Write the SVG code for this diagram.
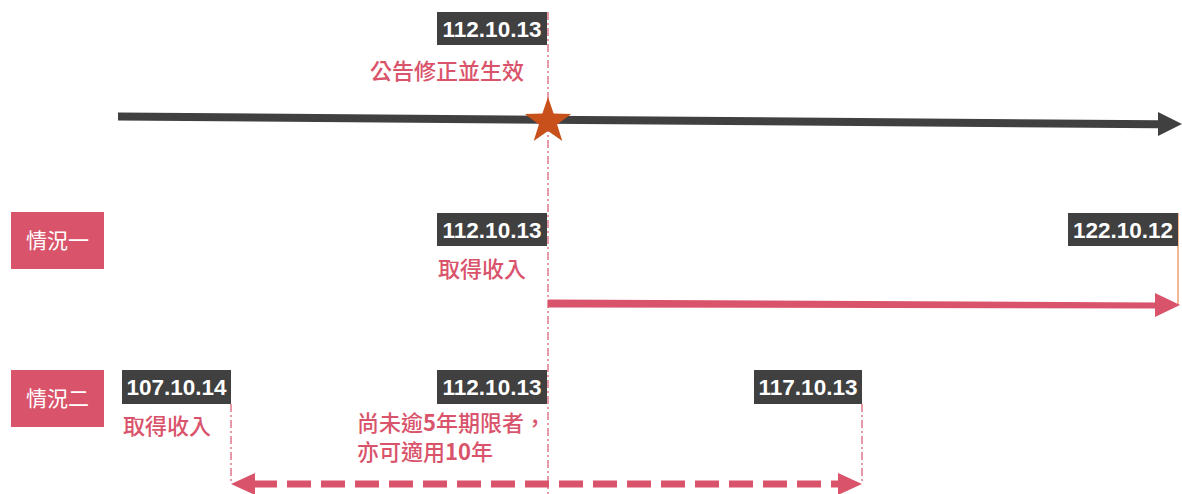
<svg xmlns="http://www.w3.org/2000/svg" width="1182" height="494" viewBox="0 0 1182 494" xml:lang="zh-Hant" lang="zh-Hant">
<style>
.date rect{fill:#404040}
.date text{fill:#fff;font-family:"Liberation Sans",Arial,sans-serif;font-weight:bold;font-size:22.5px;text-anchor:middle}
.case rect{fill:#D9536B}
.case text{fill:#fff;font-family:"Noto Sans CJK TC","Noto Sans CJK SC",sans-serif;font-size:21px;text-anchor:middle}
.lbl{fill:#D9536B;font-family:"Noto Sans CJK TC","Noto Sans CJK SC",sans-serif;font-size:22px;font-weight:500}
.num{font-weight:bold}
.guide{stroke:#D9536B;stroke-width:1.2;stroke-dasharray:8 3 2 3;fill:none}
</style>
<rect width="1182" height="494" fill="#fff"/>
<g id="connectors">
<line class="guide" x1="548" y1="12" x2="548" y2="494"/>
<line class="guide" x1="231" y1="404" x2="231" y2="484"/>
<line class="guide" x1="862" y1="404" x2="862" y2="484"/>
<line x1="1178" y1="213" x2="1178" y2="305" stroke="#F0A070" stroke-width="1.5"/>
<path d="M118 112.5 L1158 120.3 L1158 112 L1182 124 L1158 136 L1158 128.3 L118 120.5 Z" fill="#404040"/>
<path d="M548 299.5 L1155 302.5 L1155 293 L1180 305 L1155 317 L1155 308.5 L548 307.5 Z" fill="#D9536B"/>
<path d="M231 484 L255 473 L255 495 Z" fill="#D9536B"/>
<path d="M862 484 L838 473 L838 495 Z" fill="#D9536B"/>
<line x1="253" y1="484" x2="840" y2="484" stroke="#D9536B" stroke-width="7" stroke-dasharray="24 10"/>
</g>
<g id="star">
<polygon points="548,97 553.6,113.6 571.2,113.9 557.1,124.4 562.3,141.1 548,131 533.7,141.1 538.9,124.4 524.8,113.9 542.4,113.6" fill="#C8501A"/>
</g>
<g id="date-top" class="date"><rect x="437" y="12" width="110" height="33"/><text x="492" y="37">112.10.13</text></g>
<text id="label-top" class="lbl" x="447" y="79" text-anchor="middle">公告修正並生效</text>
<g id="case1" class="case"><rect x="11" y="212" width="93" height="57"/><text x="57.5" y="248">情況一</text></g>
<g id="date-c1a" class="date"><rect x="437" y="213" width="110" height="33"/><text x="492" y="238">112.10.13</text></g>
<text id="label-c1" class="lbl" x="438" y="277">取得收入</text>
<g id="date-c1b" class="date"><rect x="1068" y="213" width="110" height="33"/><text x="1123" y="238">122.10.12</text></g>
<g id="case2" class="case"><rect x="11" y="370" width="93" height="57"/><text x="57.5" y="406">情況二</text></g>
<g id="date-c2a" class="date"><rect x="122" y="370" width="109" height="34"/><text x="176.5" y="395">107.10.14</text></g>
<text id="label-c2a" class="lbl" x="123" y="434">取得收入</text>
<g id="date-c2b" class="date"><rect x="437" y="370" width="110" height="34"/><text x="492" y="395">112.10.13</text></g>
<text id="label-c2b" class="lbl" x="357" y="431" font-size="20.5"><tspan x="357">尚未逾<tspan class="num">5</tspan>年期限者，</tspan><tspan x="357" dy="29">亦可適用<tspan class="num">10</tspan>年</tspan></text>
<g id="date-c2c" class="date"><rect x="754" y="370" width="108" height="34"/><text x="808" y="395">117.10.13</text></g>
</svg>
